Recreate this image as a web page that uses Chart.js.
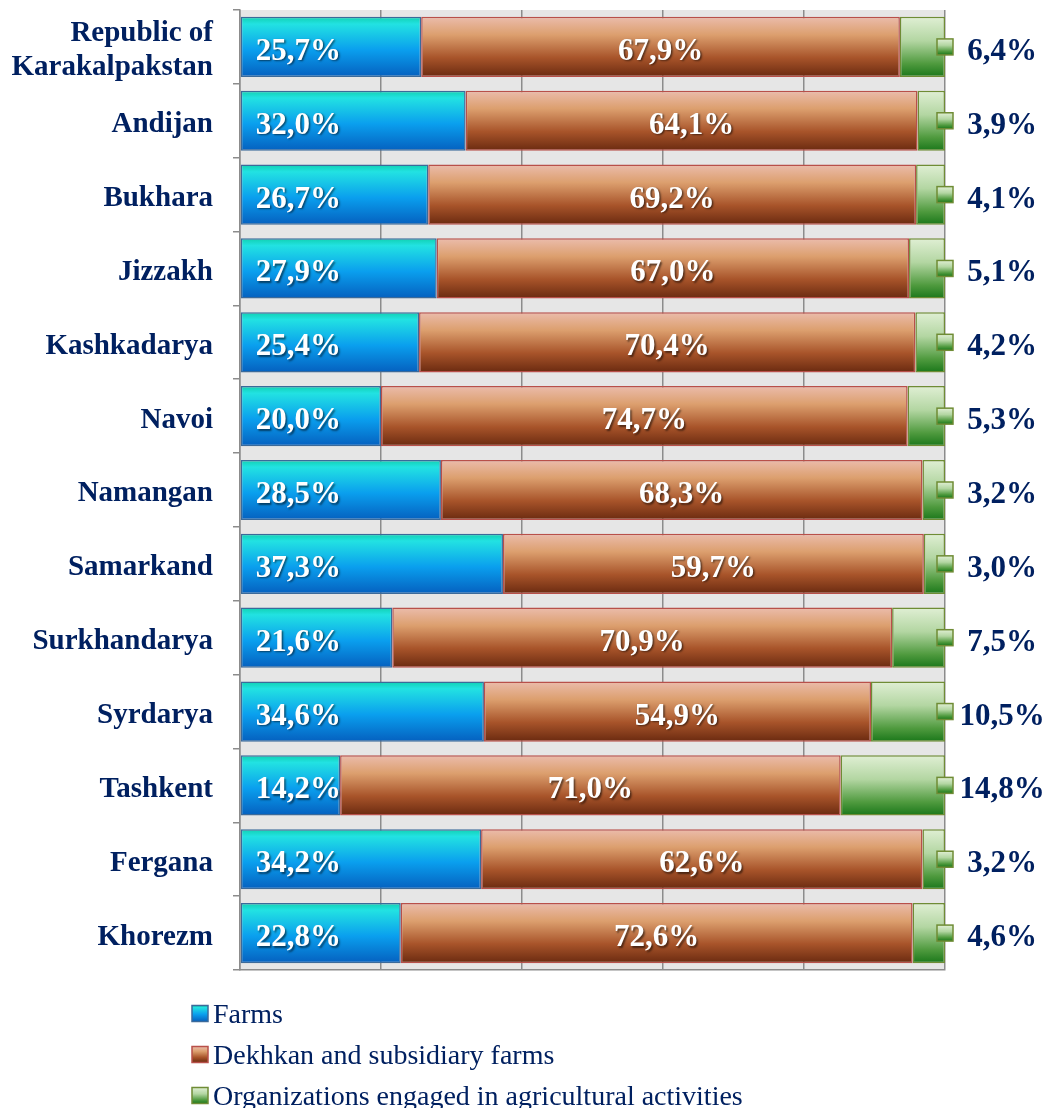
<!DOCTYPE html>
<html><head><meta charset="utf-8">
<script src="https://cdn.jsdelivr.net/npm/chart.js@4/dist/chart.umd.min.js"></script>
<style>html,body{margin:0;padding:0;background:#fff}</style>
</head><body>
<canvas id="c" width="1048" height="1108"></canvas>
<script>
// ---- data ----
const categories = [['Republic of','Karakalpakstan'],'Andijan','Bukhara','Jizzakh','Kashkadarya','Navoi','Namangan','Samarkand','Surkhandarya','Syrdarya','Tashkent','Fergana','Khorezm'];
const seriesNames = ['Farms','Dekhkan and subsidiary farms','Organizations engaged in agricultural activities'];
const farms = [25.7,32.0,26.7,27.9,25.4,20.0,28.5,37.3,21.6,34.6,14.2,34.2,22.8];
const dekhkan = [67.9,64.1,69.2,67.0,70.4,74.7,68.3,59.7,70.9,54.9,71.0,62.6,72.6];
const organizations = [6.4,3.9,4.1,5.1,4.2,5.3,3.2,3.0,7.5,10.5,14.8,3.2,4.6];
const xTicks = [0,20,40,60,80,100];

// ---- styles ----
const FONT = "'Liberation Serif','Times New Roman',serif";
const NAVY = '#002060';
const BAR_PCT = 0.815;
const gradStops = [
  [[0,'#10d0b0'],[0.12,'#22e2e2'],[0.55,'#0a9fee'],[1,'#0560bf']],
  [[0,'#ebbcac'],[0.3,'#dc9f6e'],[0.68,'#a8542a'],[1,'#6a2a10']],
  [[0,'#e0efd4'],[0.4,'#b3d6a2'],[0.78,'#4f9a3e'],[1,'#1a771a']]
];
const borderColors = ['#3b6a9a','#b8504a','#6f8c35'];

function makeGrad(ctx, top, bottom, stops){
  const g = ctx.createLinearGradient(0, top, 0, bottom);
  stops.forEach(s => g.addColorStop(s[0], s[1]));
  return g;
}
function bgFor(di){
  return (c) => {
    const chart = c.chart;
    const ys = chart.scales && chart.scales.y;
    if (!ys || c.dataIndex === undefined || !chart.chartArea) return gradStops[di][1][1];
    const cy = ys.getPixelForValue(c.dataIndex);
    const h = (chart.chartArea.bottom - chart.chartArea.top) / categories.length * BAR_PCT;
    return makeGrad(chart.ctx, cy - h/2, cy + h/2, gradStops[di]);
  };
}
const fmt = v => v.toFixed(1).replace('.', ',') + '%';

const bgPlugin = {
  id: 'plotBg',
  beforeDraw(chart){
    const {ctx, chartArea:a} = chart;
    ctx.save(); ctx.fillStyle = '#e6e6e6';
    ctx.fillRect(a.left, a.top, a.right - a.left, a.bottom - a.top);
    ctx.restore();
  }
};

const labelPlugin = {
  id: 'valueLabels',
  afterDatasetsDraw(chart){
    const ctx = chart.ctx;
    chart.data.datasets.forEach((ds, di) => {
      const meta = chart.getDatasetMeta(di);
      meta.data.forEach((bar, i) => {
        const p = bar.getProps(['x','y','base'], true);
        const v = ds.data[i];
        ctx.save();
        ctx.textBaseline = 'middle';
        if (di < 2) {
          ctx.font = 'bold 31px ' + FONT;
          ctx.fillStyle = '#ffffff';
          ctx.shadowColor = 'rgba(0,0,0,0.55)';
          ctx.shadowOffsetX = 1.5; ctx.shadowOffsetY = 1.5; ctx.shadowBlur = 2;
          if (di === 0) { ctx.textAlign = 'left'; ctx.fillText(fmt(v), p.base + 15, p.y + 5); }
          else { ctx.textAlign = 'center'; ctx.fillText(fmt(v), (p.base + p.x) / 2, p.y + 5); }
        } else {
          const s = 16;
          ctx.fillStyle = makeGrad(ctx, p.y - s/2, p.y + s/2, gradStops[2]);
          ctx.fillRect(p.x - s/2, p.y - s/2, s, s);
          ctx.strokeStyle = borderColors[2]; ctx.lineWidth = 1.5;
          ctx.strokeRect(p.x - s/2, p.y - s/2, s, s);
          ctx.font = 'bold 31px ' + FONT;
          ctx.fillStyle = NAVY; ctx.textAlign = 'center';
          ctx.fillText(fmt(v), p.x + 57, p.y + 5);
        }
        ctx.restore();
      });
    });
  }
};

const legendPlugin = {
  id: 'vLegend',
  afterDraw(chart){
    const ctx = chart.ctx;
    chart.data.datasets.forEach((ds, di) => {
      const cy = 1013.5 + di * 41;
      const s = 16, x = 192;
      ctx.save();
      ctx.fillStyle = makeGrad(ctx, cy - s/2, cy + s/2, gradStops[di]);
      ctx.fillRect(x, cy - s/2, s, s);
      ctx.strokeStyle = borderColors[di]; ctx.lineWidth = 1.5;
      ctx.strokeRect(x, cy - s/2, s, s);
      ctx.font = '28px ' + FONT;
      ctx.fillStyle = NAVY; ctx.textAlign = 'left'; ctx.textBaseline = 'middle';
      ctx.fillText(ds.label, 213, cy + 2);
      ctx.restore();
    });
  }
};

const seriesData = [farms, dekhkan, organizations];
new Chart(document.getElementById('c'), {
  type: 'bar',
  data: {
    labels: categories,
    datasets: seriesData.map((d, di) => ({
      label: seriesNames[di],
      data: d,
      backgroundColor: bgFor(di),
      borderColor: borderColors[di],
      borderWidth: 1.5,
      borderSkipped: false,
      barPercentage: BAR_PCT,
      categoryPercentage: 1
    }))
  },
  options: {
    indexAxis: 'y',
    responsive: false,
    animation: false,
    layout: { padding: { top: 10, right: 103, left: 0, bottom: 0 } },
    plugins: { legend: { display: false }, tooltip: { enabled: false } },
    scales: {
      x: {
        stacked: true, min: 0, max: 100,
        ticks: { display: false },
        afterBuildTicks: s => { s.ticks = xTicks.map(v => ({ value: v })); },
        grid: { color: '#8c8c8c', lineWidth: 1.5, drawTicks: false },
        border: { display: true, color: '#8c8c8c', width: 1.5 },
        afterFit: s => { s.height = 138; s.paddingLeft = 0; s.paddingRight = 0; }
      },
      y: {
        stacked: true,
        grid: { offset: true, drawOnChartArea: false, drawTicks: true, tickLength: 7, color: '#8c8c8c', lineWidth: 1.5 },
        border: { display: true, color: '#8c8c8c', width: 1.5 },
        ticks: { color: NAVY, font: { family: FONT, size: 29, weight: 'bold', lineHeight: 1.17 }, padding: 20, labelOffset: 4, autoSkip: false },
        afterFit: s => { s.width = 240; s.paddingTop = 0; s.paddingBottom = 0; }
      }
    }
  },
  plugins: [bgPlugin, labelPlugin, legendPlugin]
});
</script>
</body></html>
